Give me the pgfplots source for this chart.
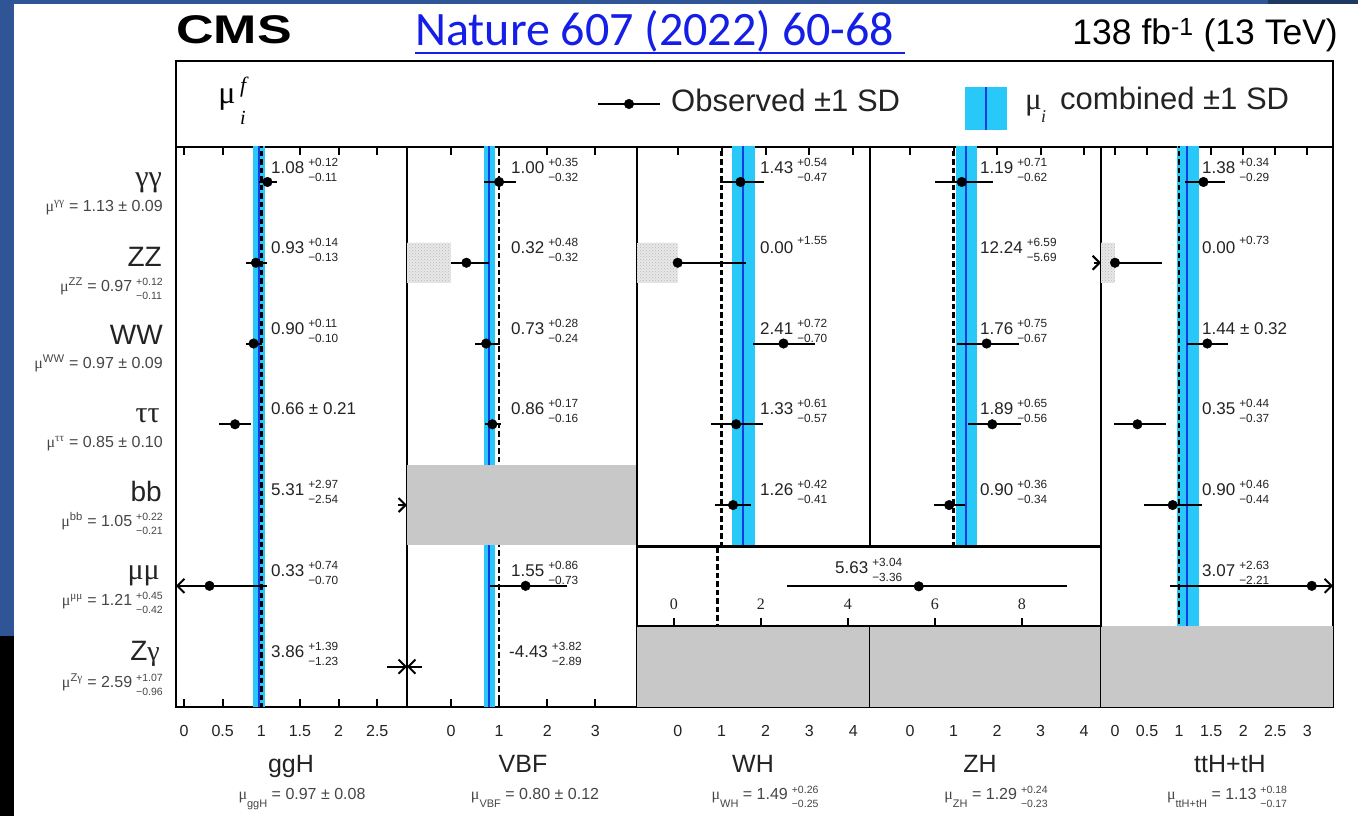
\documentclass[border=0pt]{standalone}
\usepackage{pgfplots}
\pgfplotsset{compat=1.18}
\usepackage{pgfplotstable}
\usepackage{fontspec}
\setmainfont{Liberation Sans}
\newfontfamily\grk{Liberation Serif}
\newfontfamily\carl{Carlito}
\usetikzlibrary{arrows.meta,patterns}

\definecolor{band}{RGB}{40,200,248}
\definecolor{cline}{RGB}{20,60,230}
\definecolor{grey}{RGB}{200,200,200}
\definecolor{txt}{RGB}{35,35,35}
\definecolor{subt}{RGB}{70,70,70}
\definecolor{slide}{RGB}{47,85,151}
\definecolor{slidedark}{RGB}{31,56,100}
\definecolor{link}{RGB}{20,30,230}

\newcommand{\fs}[1]{\fontsize{#1}{#1}\selectfont}
\newcommand{\ud}[2]{{\fontsize{11.8}{15.5}\selectfont\begin{tabular}[c]{@{}l@{}}#1\\#2\end{tabular}}}
\newcommand{\uds}[2]{\hspace{4pt}{\fontsize{10.5}{14}\selectfont\begin{tabular}[c]{@{}l@{}}#1\\#2\end{tabular}}}
\newcommand{\V}[3]{\fs{17}#1\hspace{4pt}\ud{#2}{#3}}
\newcommand{\Vs}[2]{\fs{17}#1\hspace{4pt}\raisebox{9pt}{\fs{11.8}#2}}

\pgfplotstableread{
x y em ep
1.08 7 0.11 0.12
0.93 6 0.13 0.14
0.90 5 0.10 0.11
0.66 4 0.21 0.21
0.33 2 0 0.74
}\tabggH
\pgfplotstableread{
x y em ep
1.00 7 0.32 0.35
0.32 6 0.32 0.48
0.73 5 0.24 0.28
0.86 4 0.16 0.17
1.55 2 0.73 0.86
}\tabVBF
\pgfplotstableread{
x y em ep
1.43 7 0.47 0.54
0.00 6 0 1.55
2.41 5 0.70 0.72
1.33 4 0.57 0.61
1.26 3 0.41 0.42
}\tabWH
\pgfplotstableread{
x y em ep
1.19 7 0.62 0.71
1.76 5 0.67 0.75
1.89 4 0.56 0.65
0.90 3 0.34 0.36
}\tabZH
\pgfplotstableread{
x y em ep
1.38 7 0.29 0.34
0.00 6 0 0.73
1.44 5 0.32 0.32
0.35 4 0.37 0.44
0.90 3 0.44 0.46
3.07 2 2.21 0
}\tabttH
\pgfplotstableread{
x y em ep
5.63 0.5 3.04 3.40
}\tabmm

\pgfplotsset{
  panel/.style={scale only axis, anchor=south west, height=560pt,
    ymin=0.5, ymax=7.433, ytick=\empty,
    axis line style={line width=2.4pt},
    tick align=inside, major tick length=8pt,
    tick style={line width=2pt, black},
    xticklabel style={font=\fs{16}, text=txt, yshift=-15pt},
    /pgf/number format/assume math mode=true},
  obs/.style={only marks, mark=*, mark size=4.8pt, black,
    error bars/.cd, x dir=both, x explicit, error mark=none,
    error bar style={line width=2pt, black}},
  arr/.style={black, line width=2pt, -{Straight Barb[length=7pt,width=14pt]}},
  dashl/.style={black, line width=2.5pt, dash pattern=on 5.5pt off 3pt},
  bandf/.style={fill=band, draw=none},
  cl/.style={cline, line width=2pt},
  greyf/.style={fill=grey, draw=none},
  dotb/.style={fill=gray!18, draw=none},
  dotf/.style={pattern=crosshatch dots, pattern color=gray!55, draw=none},
}

\begin{document}
\begin{tikzpicture}[x=1pt,y=1pt]
\useasboundingbox (0,0) rectangle (1358,816);
\fill[white] (0,0) rectangle (1358,816);
\fill[slide] (0,180) rectangle (14,816);
\fill[black] (0,0) rectangle (14,180);
\fill[slide] (0,811.5) rectangle (1358,816);
\fill[slidedark] (1268,811.5) rectangle (1358,816);

% header / legend box
\begin{axis}[scale only axis, anchor=south west, at={(176pt,669pt)},
  width=1157pt, height=86pt, xmin=0, xmax=1157, ymin=0, ymax=86,
  xtick=\empty, ytick=\empty, axis line style={line width=2.4pt}, clip=false]
\addplot[black, line width=2pt] coordinates {(422,43) (484,43)};
\addplot[only marks, mark=*, mark size=4.8pt, black] coordinates {(453,43)};
\addplot[bandf] coordinates {(789,17) (831,17) (831,60) (789,60)};
\addplot[cl] coordinates {(810,17) (810,60)};
\end{axis}

% ggH
\begin{axis}[panel, at={(176pt,109pt)}, width=231pt, xmin=-0.1035, xmax=2.885,
  xtick={0,0.5,1,1.5,2,2.5}]
\addplot[bandf] coordinates {(0.89,0.4) (1.05,0.4) (1.05,7.6) (0.89,7.6)};
\addplot[cl] coordinates {(0.97,0.4) (0.97,7.6)};
\addplot[dashl] coordinates {(1,7.6) (1,0.4)};
\addplot[obs] table[x=x,y=y,x error plus=ep,x error minus=em] {\tabggH};
\addplot[arr] coordinates {(0.33,2) (-0.1035,2)};
\addplot[arr] coordinates {(2.77,3) (2.885,3)};
\addplot[arr] coordinates {(2.63,1) (2.885,1)};
\end{axis}

% VBF
\begin{axis}[panel, at={(407pt,109pt)}, width=230pt, xmin=-0.915, xmax=3.867,
  xtick={0,1,2,3}]
\addplot[bandf] coordinates {(0.68,0.4) (0.92,0.4) (0.92,7.6) (0.68,7.6)};
\addplot[cl] coordinates {(0.80,0.4) (0.80,7.6)};
\addplot[dashl] coordinates {(1,7.6) (1,0.4)};
\addplot[greyf] coordinates {(-0.915,2.5) (3.867,2.5) (3.867,3.5) (-0.915,3.5)};
\addplot[dotb] coordinates {(-0.915,5.75) (0,5.75) (0,6.25) (-0.915,6.25)};
\addplot[dotf] coordinates {(-0.915,5.75) (0,5.75) (0,6.25) (-0.915,6.25)};
\addplot[obs] table[x=x,y=y,x error plus=ep,x error minus=em] {\tabVBF};
\addplot[arr] coordinates {(-0.61,1) (-0.915,1)};
\end{axis}

% WH
\begin{axis}[panel, at={(637pt,109pt)}, width=233pt, xmin=-0.927, xmax=4.38,
  xtick={0,1,2,3,4}]
\addplot[bandf] coordinates {(1.24,0.4) (1.75,0.4) (1.75,7.6) (1.24,7.6)};
\addplot[cl] coordinates {(1.49,0.4) (1.49,7.6)};
\addplot[dashl] coordinates {(1,7.6) (1,0.4)};
\addplot[greyf] coordinates {(-0.927,0.4) (4.38,0.4) (4.38,1.5) (-0.927,1.5)};
\addplot[dotb] coordinates {(-0.927,5.75) (0,5.75) (0,6.25) (-0.927,6.25)};
\addplot[dotf] coordinates {(-0.927,5.75) (0,5.75) (0,6.25) (-0.927,6.25)};
\addplot[obs] table[x=x,y=y,x error plus=ep,x error minus=em] {\tabWH};
\end{axis}

% ZH
\begin{axis}[panel, at={(870pt,109pt)}, width=231pt, xmin=-0.92, xmax=4.39,
  xtick={0,1,2,3,4}]
\addplot[bandf] coordinates {(1.06,0.4) (1.53,0.4) (1.53,7.6) (1.06,7.6)};
\addplot[cl] coordinates {(1.29,0.4) (1.29,7.6)};
\addplot[dashl] coordinates {(1,7.6) (1,0.4)};
\addplot[greyf] coordinates {(-0.92,0.4) (4.39,0.4) (4.39,1.5) (-0.92,1.5)};
\addplot[obs] table[x=x,y=y,x error plus=ep,x error minus=em] {\tabZH};
\addplot[arr] coordinates {(4.22,6) (4.39,6)};
\end{axis}

% ttH+tH
\begin{axis}[panel, at={(1101pt,109pt)}, width=232pt, xmin=-0.218, xmax=3.401,
  xtick={0,0.5,1,1.5,2,2.5,3}]
\addplot[bandf] coordinates {(0.96,0.4) (1.31,0.4) (1.31,7.6) (0.96,7.6)};
\addplot[cl] coordinates {(1.13,0.4) (1.13,7.6)};
\addplot[dashl] coordinates {(1,7.6) (1,0.4)};
\addplot[greyf] coordinates {(-0.218,0.4) (3.401,0.4) (3.401,1.5) (-0.218,1.5)};
\addplot[dotb] coordinates {(-0.218,5.75) (0,5.75) (0,6.25) (-0.218,6.25)};
\addplot[dotf] coordinates {(-0.218,5.75) (0,5.75) (0,6.25) (-0.218,6.25)};
\addplot[obs] table[x=x,y=y,x error plus=ep,x error minus=em] {\tabttH};
\addplot[arr] coordinates {(3.07,2) (3.401,2)};
\end{axis}

% mu mu combined WH+ZH box
\begin{axis}[scale only axis, anchor=south west, at={(637pt,190pt)},
  width=464pt, height=79.3pt, xmin=-0.85, xmax=9.82, ymin=0, ymax=1,
  ytick=\empty, xtick={0,2,4,6,8}, xtick pos=left,
  axis background/.style={fill=white},
  axis line style={line width=2.4pt},
  tick align=inside, major tick length=8pt,
  tick style={line width=2pt, black},
  xticklabel style={font=\grk\fs{16}, text=txt, yshift=31pt},
  /pgf/number format/assume math mode=true]
\addplot[dashl] coordinates {(1,1.1) (1,-0.1)};
\addplot[obs] table[x=x,y=y,x error plus=ep,x error minus=em] {\tabmm};
\end{axis}

% ---------- texts ----------
\node[anchor=base west, inner sep=0] at (176,772) {\scalebox{1.3}[1]{\fs{40}\bfseries CMS}};
\node[anchor=base west, inner sep=0, text=link] (nat) at (415,770) {\carl\fs{48}Nature 607 (2022) 60-68};
\draw[link, line width=2.4pt] ([yshift=-7pt]nat.base west) -- ([yshift=-7pt, xshift=11pt]nat.base east);
\node[anchor=base east, inner sep=0] at (1338,771) {\fs{35.5}138 fb\textsuperscript{-1} (13 TeV)};

\node[anchor=base, inner sep=0] at (227,712) {\grk\fs{32}μ};
\node[anchor=base west, inner sep=0] at (240,723) {\grk\itshape\fs{22}f};
\node[anchor=base west, inner sep=0] at (240,691) {\grk\itshape\fs{20}i};
\node[anchor=base west, inner sep=0, text=txt] at (671,704) {\fs{31}Observed ±1 SD};
\node[anchor=base west, inner sep=0, text=txt] at (1025,706) {\grk\fs{31}μ};
\node[anchor=base west, inner sep=0, text=txt] at (1041,693) {\grk\itshape\fs{18}i};
\node[anchor=base west, inner sep=0, text=txt] at (1060,706) {\fs{31}combined ±1 SD};

% left labels
\begin{scope}[every node/.style={anchor=base east, inner sep=0, text=txt}]
\node at (162,629) {\grk\fs{30}γγ};
\node at (162,549) {\fs{28}ZZ};
\node at (163,471) {\fs{28}WW};
\node at (160,393) {\grk\fs{30}ττ};
\node at (162,314) {\fs{28}bb};
\node at (160,236) {\grk\fs{30}μμ};
\node at (160,155) {\fs{28}Z{\grk γ}};
\end{scope}
\begin{scope}[every node/.style={anchor=base east, inner sep=0, text=subt}]
\node at (163,604) {\fs{16}{\grk μ}\textsuperscript{\grk γγ} = 1.13 ± 0.09};
\node at (163,524) {\fs{16}{\grk μ}\textsuperscript{ZZ} = 0.97\uds{+0.12}{−0.11}};
\node at (163,447) {\fs{16}{\grk μ}\textsuperscript{WW} = 0.97 ± 0.09};
\node at (163,368) {\fs{16}{\grk μ}\textsuperscript{\grk ττ} = 0.85 ± 0.10};
\node at (163,289) {\fs{16}{\grk μ}\textsuperscript{bb} = 1.05\uds{+0.22}{−0.21}};
\node at (163,210) {\fs{16}{\grk μ}\textsuperscript{\grk μμ} = 1.21\uds{+0.45}{−0.42}};
\node at (163,128) {\fs{16}{\grk μ}\textsuperscript{Z\grk γ} = 2.59\uds{+1.07}{−0.96}};
\end{scope}

% bottom labels
\begin{scope}[every node/.style={anchor=base, inner sep=0, text=txt}]
\node at (291,43) {\fs{25}ggH};
\node at (523,43) {\fs{25}VBF};
\node at (753,43) {\fs{25}WH};
\node at (980,43) {\fs{25}ZH};
\node at (1230,43) {\fs{25}ttH+tH};
\end{scope}
\begin{scope}[every node/.style={anchor=base, inner sep=0, text=subt}]
\node at (302,16) {\fs{16}{\grk μ}\raisebox{-8pt}{\fs{11}ggH} = 0.97 ± 0.08};
\node at (535,16) {\fs{16}{\grk μ}\raisebox{-8pt}{\fs{11}VBF} = 0.80 ± 0.12};
\node at (765,16) {\fs{16}{\grk μ}\raisebox{-8pt}{\fs{11}WH} = 1.49\uds{+0.26}{−0.25}};
\node at (996,16) {\fs{16}{\grk μ}\raisebox{-8pt}{\fs{11}ZH} = 1.29\uds{+0.24}{−0.23}};
\node at (1227,16) {\fs{16}{\grk μ}\raisebox{-8pt}{\fs{11}ttH+tH} = 1.13\uds{+0.18}{−0.17}};
\end{scope}

% value labels
\begin{scope}[every node/.style={anchor=base west, inner sep=0, text=txt}]
% ggH
\node at (271,642) {\V{1.08}{+0.12}{−0.11}};
\node at (271,562) {\V{0.93}{+0.14}{−0.13}};
\node at (271,481) {\V{0.90}{+0.11}{−0.10}};
\node at (271,401) {\fs{17}0.66 ± 0.21};
\node at (271,320) {\V{5.31}{+2.97}{−2.54}};
\node at (271,239) {\V{0.33}{+0.74}{−0.70}};
\node at (271,158) {\V{3.86}{+1.39}{−1.23}};
% VBF
\node at (511,642) {\V{1.00}{+0.35}{−0.32}};
\node at (511,562) {\V{0.32}{+0.48}{−0.32}};
\node at (511,481) {\V{0.73}{+0.28}{−0.24}};
\node at (511,401) {\V{0.86}{+0.17}{−0.16}};
\node at (511,239) {\V{1.55}{+0.86}{−0.73}};
\node at (509,158) {\V{-4.43}{+3.82}{−2.89}};
% WH
\node at (760,642) {\V{1.43}{+0.54}{−0.47}};
\node at (760,562) {\Vs{0.00}{+1.55}};
\node at (760,481) {\V{2.41}{+0.72}{−0.70}};
\node at (760,401) {\V{1.33}{+0.61}{−0.57}};
\node at (760,320) {\V{1.26}{+0.42}{−0.41}};
% ZH
\node at (980,642) {\V{1.19}{+0.71}{−0.62}};
\node at (980,562) {\V{12.24}{+6.59}{−5.69}};
\node at (980,481) {\V{1.76}{+0.75}{−0.67}};
\node at (980,401) {\V{1.89}{+0.65}{−0.56}};
\node at (980,320) {\V{0.90}{+0.36}{−0.34}};
% ttH
\node at (1202,642) {\V{1.38}{+0.34}{−0.29}};
\node at (1202,562) {\Vs{0.00}{+0.73}};
\node at (1202,481) {\fs{17}1.44 ± 0.32};
\node at (1202,401) {\V{0.35}{+0.44}{−0.37}};
\node at (1202,320) {\V{0.90}{+0.46}{−0.44}};
\node at (1202,239) {\V{3.07}{+2.63}{−2.21}};
% combined mu mu
\node at (835,242) {\V{5.63}{+3.04}{−3.36}};
\end{scope}
\end{tikzpicture}
\end{document}
